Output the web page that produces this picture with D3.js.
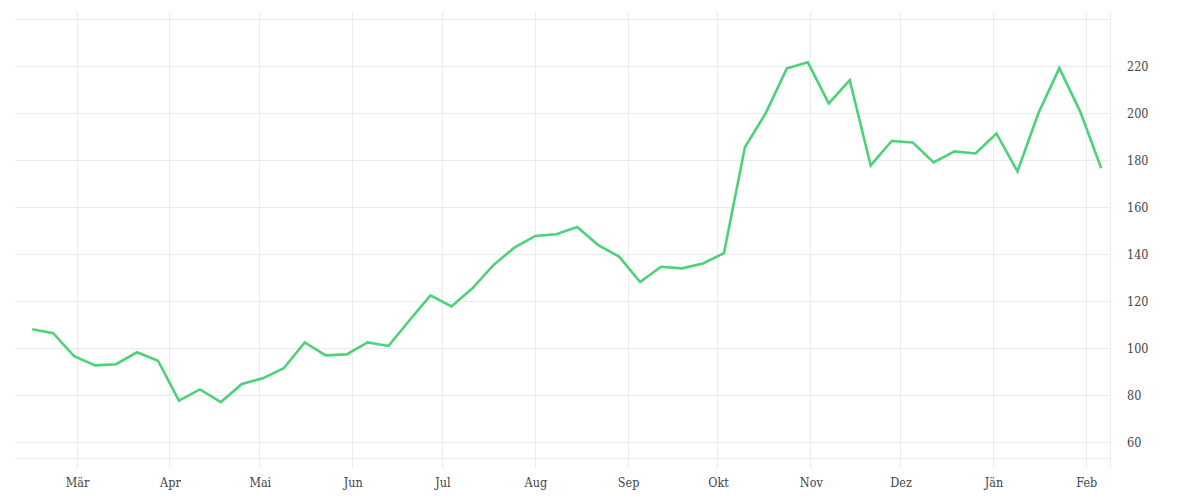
<!DOCTYPE html>
<html>
<head>
<meta charset="utf-8">
<script src="https://cdn.jsdelivr.net/npm/d3@7"></script>
<style>
  body { margin: 0; background: #fff; }
  svg text { font-family: "DejaVu Serif Condensed", "DejaVu Serif", serif; font-stretch: condensed; font-size: 12.5px; fill: #444; }
</style>
</head>
<body>
<svg id="chart" width="1200" height="500"></svg>
<script>
// weekly values, first week starting 2020-02-15
const startDate = new Date(2020, 1, 15);
const values = [
  108.0, 106.3, 96.5, 92.6, 93.1, 98.2, 94.6, 77.6, 82.4, 77.0,
  84.7, 87.1, 91.4, 102.4, 96.9, 97.3, 102.4, 100.9, 111.8, 122.4,
  117.7, 125.4, 135.3, 142.7, 147.7, 148.4, 151.5, 143.8, 138.9, 128.1,
  134.6, 133.9, 136.0, 140.4, 185.4, 200.1, 219.0, 221.6, 204.1, 214.0,
  177.7, 188.1, 187.5, 179.0, 183.7, 182.8, 191.3, 175.2, 199.9, 219.1,
  200.5, 176.5
];
const monthLabels = ['Jän', 'Feb', 'Mär', 'Apr', 'Mai', 'Jun', 'Jul', 'Aug', 'Sep', 'Okt', 'Nov', 'Dez'];
const yTicks = [60, 80, 100, 120, 140, 160, 180, 200, 220];
const yGrid = [60, 80, 100, 120, 140, 160, 180, 200, 220, 240];

const data = values.map((v, i) => ({ date: d3.timeDay.offset(startDate, i * 7), value: v }));

const svg = d3.select('#chart');
const plot = { left: 15, right: 1110, top: 12, bottom: 458 };

const x = d3.scaleTime()
  .domain([new Date(2020, 1, 9, 6), new Date(2021, 1, 8, 22)])
  .range([plot.left, plot.right]);
const y = d3.scaleLinear().domain([53.2, 243]).range([plot.bottom, plot.top]);

const grid = svg.append('g').attr('stroke', '#ebebeb').attr('stroke-width', 1).attr('shape-rendering', 'crispEdges');

// horizontal grid
grid.selectAll('.hg').data(yGrid).join('line')
  .attr('x1', plot.left).attr('x2', plot.right)
  .attr('y1', d => y(d)).attr('y2', d => y(d));
grid.append('line').attr('x1', plot.left).attr('x2', plot.right).attr('y1', plot.bottom).attr('y2', plot.bottom);

// vertical grid at month starts
const months = d3.timeMonth.range(d3.timeMonth.ceil(x.domain()[0]), x.domain()[1]);
grid.selectAll('.vg').data(months).join('line')
  .attr('x1', d => x(d)).attr('x2', d => x(d))
  .attr('y1', plot.top).attr('y2', plot.bottom + 10);
grid.append('line').attr('x1', plot.right).attr('x2', plot.right).attr('y1', plot.top).attr('y2', plot.bottom + 10);

// x axis labels
const xAxis = d3.axisBottom(x).tickValues(months).tickSize(0).tickPadding(0)
  .tickFormat(d => monthLabels[d.getMonth()]);
svg.append('g').attr('transform', `translate(0,${plot.bottom + 20})`).call(xAxis)
  .call(g => g.select('.domain').remove());

// y axis labels on the right
const yAxis = d3.axisRight(y).tickValues(yTicks).tickSize(0).tickPadding(0);
svg.append('g').attr('transform', `translate(${plot.right + 17},0)`).call(yAxis)
  .call(g => g.select('.domain').remove());

svg.selectAll('g').attr('font-family', null).attr('font-size', null);
svg.selectAll('.tick text').attr('fill', '#444');

// line
const line = d3.line().x(d => x(d.date)).y(d => y(d.value));
svg.append('path').datum(data)
  .attr('fill', 'none')
  .attr('stroke', '#4dd27b')
  .attr('stroke-width', 2.6)
  .attr('d', line);
</script>
</body>
</html>
